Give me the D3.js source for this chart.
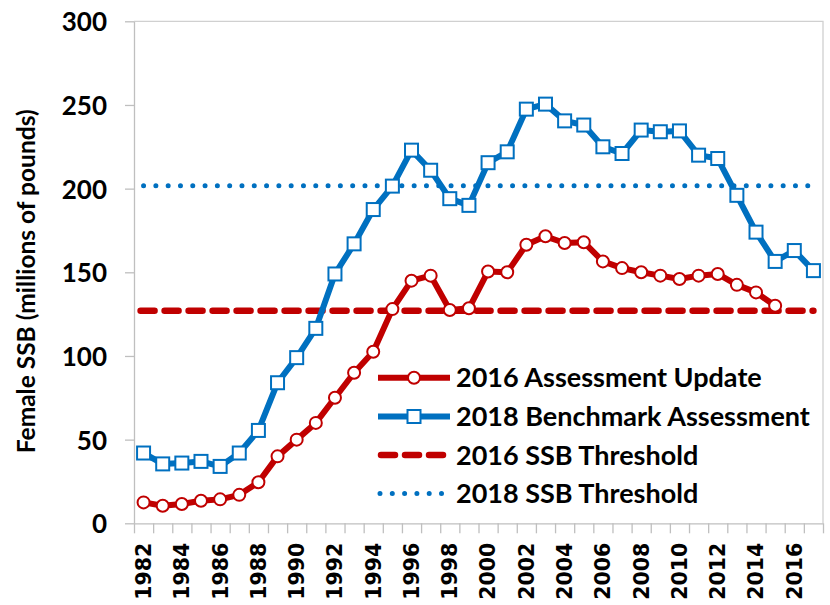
<!DOCTYPE html>
<html>
<head>
<meta charset="utf-8">
<script src="https://cdn.jsdelivr.net/npm/d3@7"></script>
<style>
  html, body { margin: 0; padding: 0; background: #fff; }
  svg { display: block; }
</style>
</head>
<body>
<svg id="chart" width="830" height="605"></svg>
<script>
// ---------------- DATA ----------------
const years = d3.range(1982, 2018); // 1982..2017 categories
const assess2016Years = d3.range(1982, 2016);
const assess2016 = [12.5, 10.5, 11.5, 13.5, 14.3, 17, 24.5, 40, 50, 60, 75, 90, 102.5,
  128, 145, 148, 127.5, 128.5, 150.5, 150, 166.5, 171.5, 167.5, 168, 156.5, 152.5,
  150, 148, 146, 148, 149, 142.5, 138, 130];
const bench2018Years = d3.range(1982, 2018);
const bench2018 = [42, 35.5, 36, 37, 34, 42, 55.5, 84, 99, 116.5, 149, 167, 187.5, 201.5,
  223, 211, 194, 190, 215.5, 222, 247.5, 250.5, 240.5, 238, 225, 221, 235, 234,
  234.5, 220, 218, 196, 174, 156.5, 163, 151];
const threshold2016 = 127;
const threshold2018 = 201.7;
const yTicks = [0, 50, 100, 150, 200, 250, 300];
const xLabelYears = d3.range(1982, 2017, 2);
const legendLabels = ["2016 Assessment Update", "2018 Benchmark Assessment",
  "2016 SSB Threshold", "2018 SSB Threshold"];
const yTitle = "Female SSB (millions of pounds)";

// ---------------- LAYOUT ----------------
const RED = "#C00000", BLUE = "#0070C0", GRID = "#BFBFBF";
const L = 134, R = 823, T = 21.3, B = 523.3;
const svg = d3.select("#chart");
const calibri = "Lato, 'Open Sans', sans-serif";

const x = d3.scaleBand().domain(years).range([L, R]).padding(0);
const cx = yr => x(yr) + x.bandwidth() / 2;
const y = d3.scaleLinear().domain([0, 300]).range([B, T]);

// plot-area border (top & right)
svg.append("path")
  .attr("d", `M${L},${T}H${R}V${B}`)
  .attr("fill", "none").attr("stroke", "#D0D0D0").attr("stroke-width", 1.3);

// Y axis
const yAxis = svg.append("g").attr("transform", `translate(${L},0)`)
  .call(d3.axisLeft(y).tickValues(yTicks).tickSize(9).tickPadding(18).tickSizeOuter(0));
yAxis.select(".domain").attr("stroke", GRID).attr("stroke-width", 1.3);
yAxis.selectAll(".tick line").attr("stroke", GRID).attr("stroke-width", 1.3);
yAxis.selectAll(".tick text")
  .attr("font-family", calibri).attr("font-weight", "bold")
  .attr("font-size", 26).attr("fill", "#000").attr("dy", "0.36em");

// X axis: boundary ticks
const xb = d3.scaleLinear().domain([0, years.length]).range([L, R]);
const xTickAxis = svg.append("g").attr("transform", `translate(0,${B})`)
  .call(d3.axisBottom(xb).tickValues(d3.range(0, years.length + 1))
    .tickSize(10).tickFormat("").tickSizeOuter(0));
xTickAxis.select(".domain").attr("stroke", GRID).attr("stroke-width", 1.3);
xTickAxis.selectAll(".tick line").attr("stroke", GRID).attr("stroke-width", 1.3);

// X axis labels
const xLab = svg.append("g").attr("transform", `translate(0,${B})`)
  .call(d3.axisBottom(x).tickValues(xLabelYears).tickSize(0).tickSizeOuter(0));
xLab.select(".domain").remove();
xLab.selectAll(".tick text")
  .attr("transform", "rotate(-90)")
  .attr("text-anchor", "end")
  .attr("x", -19.5).attr("y", 0).attr("dy", "0.36em")
  .attr("font-family", "'DejaVu Sans', sans-serif").attr("font-weight", "bold")
  .attr("font-size", 20.5).attr("fill", "#000");

// Y title
svg.append("text")
  .attr("transform", `translate(26,${(T + B) / 2 + 9}) rotate(-90)`)
  .attr("text-anchor", "middle").attr("dy", "0.36em")
  .attr("font-family", calibri).attr("font-weight", "bold")
  .attr("font-size", 24.5).attr("fill", "#000")
  .text(yTitle);

// Threshold lines
const x0 = cx(years[0]), x1 = cx(years[years.length - 1]);
svg.append("line")
  .attr("x1", x0 - 3).attr("x2", x1).attr("y1", y(threshold2016)).attr("y2", y(threshold2016))
  .attr("stroke", RED).attr("stroke-width", 6.5)
  .attr("stroke-dasharray", "14 10").attr("stroke-linecap", "round");
svg.append("line")
  .attr("x1", x0).attr("x2", x1).attr("y1", y(threshold2018)).attr("y2", y(threshold2018))
  .attr("stroke", BLUE).attr("stroke-width", 5)
  .attr("stroke-dasharray", "0 12.3").attr("stroke-linecap", "round");

// Series
const line = d3.line().x(d => cx(d[0])).y(d => y(d[1]));
const redData = assess2016Years.map((yr, i) => [yr, assess2016[i]]);
const blueData = bench2018Years.map((yr, i) => [yr, bench2018[i]]);

svg.append("path").datum(redData).attr("d", line)
  .attr("fill", "none").attr("stroke", RED).attr("stroke-width", 6)
  .attr("stroke-linejoin", "round");
svg.append("g").selectAll("circle").data(redData).join("circle")
  .attr("cx", d => cx(d[0])).attr("cy", d => y(d[1])).attr("r", 6)
  .attr("fill", "#fff").attr("stroke", RED).attr("stroke-width", 2);

svg.append("path").datum(blueData).attr("d", line)
  .attr("fill", "none").attr("stroke", BLUE).attr("stroke-width", 6)
  .attr("stroke-linejoin", "round");
const S = 13;
svg.append("g").selectAll("rect").data(blueData).join("rect")
  .attr("x", d => cx(d[0]) - S / 2).attr("y", d => y(d[1]) - S / 2)
  .attr("width", S).attr("height", S)
  .attr("fill", "#fff").attr("stroke", BLUE).attr("stroke-width", 2);

// Legend
const legY = [377.7, 416.5, 455, 493.5];
const lx0 = 378, lx1 = 450, lm = 414, tx = 456;
const leg = svg.append("g");
legendLabels.forEach((lab, i) => {
  const g = leg.append("g").attr("transform", `translate(0,${legY[i]})`);
  if (i === 0) {
    g.append("line").attr("x1", lx0).attr("x2", lx1).attr("stroke", RED).attr("stroke-width", 6);
    g.append("circle").attr("cx", lm).attr("r", 6).attr("fill", "#fff").attr("stroke", RED).attr("stroke-width", 2);
  } else if (i === 1) {
    g.append("line").attr("x1", lx0).attr("x2", lx1).attr("stroke", BLUE).attr("stroke-width", 6);
    g.append("rect").attr("x", lm - S / 2).attr("y", -S / 2).attr("width", S).attr("height", S)
      .attr("fill", "#fff").attr("stroke", BLUE).attr("stroke-width", 2);
  } else if (i === 2) {
    g.append("line").attr("x1", lx0 + 3).attr("x2", lx1).attr("stroke", RED).attr("stroke-width", 6.5)
      .attr("stroke-dasharray", "14 10").attr("stroke-linecap", "round");
  } else {
    g.append("line").attr("x1", lx0 + 2).attr("x2", lx1).attr("stroke", BLUE).attr("stroke-width", 5)
      .attr("stroke-dasharray", "0 12.3").attr("stroke-linecap", "round");
  }
  g.append("text").attr("x", tx).attr("dy", "0.36em")
    .attr("font-family", calibri).attr("font-weight", "bold")
    .attr("font-size", 27).attr("fill", "#000").text(lab);
});
</script>
</body>
</html>
